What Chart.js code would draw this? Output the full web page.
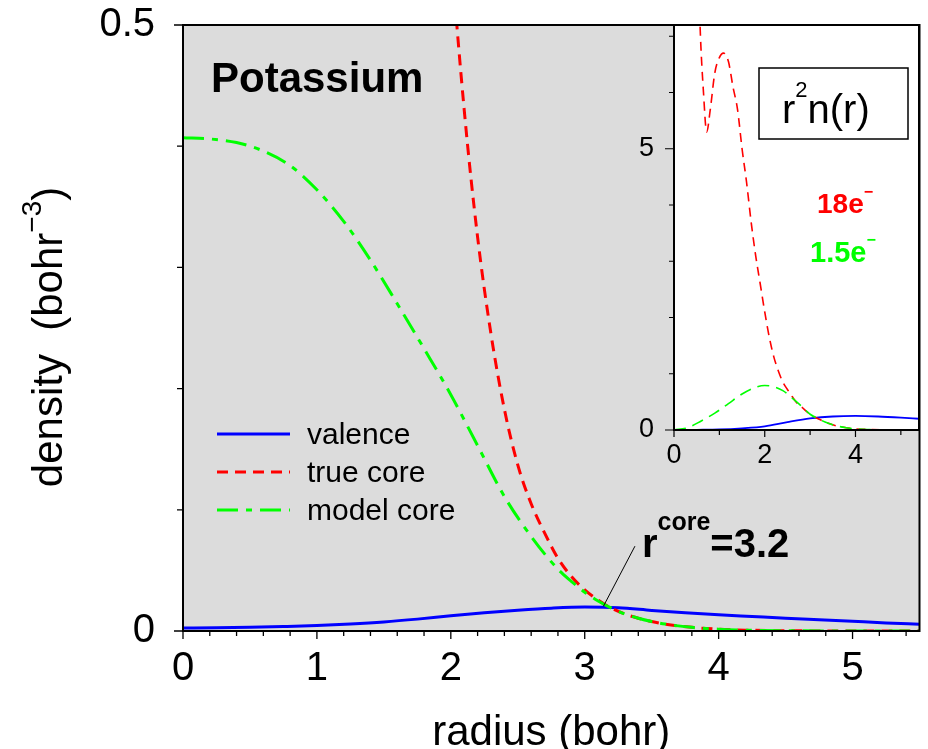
<!DOCTYPE html>
<html>
<head>
<meta charset="utf-8">
<title>Potassium core density</title>
<script src="https://cdn.jsdelivr.net/npm/chart.js@4.4.1/dist/chart.umd.min.js"></script>
<style>
  html, body { margin: 0; padding: 0; background: #fff; }
  #wrap { position: relative; width: 928px; height: 749px; }
  #mainChart { position: absolute; left: 0; top: 0; }
  #insetChart { position: absolute; left: 600px; top: 0; }
</style>
</head>
<body>
<div id="wrap">
  <canvas id="mainChart" width="928" height="749"></canvas>
  <canvas id="insetChart" width="328" height="480"></canvas>
</div>
<script>
// ------------------------------------------------------------
// Main panel: density n(r) in bohr^-3
// ------------------------------------------------------------
const valenceR = [0, 0.25, 0.5, 0.75, 1.0, 1.25, 1.5, 1.75, 2.0, 2.25, 2.5, 2.75, 3.0, 3.25, 3.5, 3.75, 4.0, 4.25, 4.5, 4.75, 5.0, 5.25, 5.5];
const valenceN = [0.0025, 0.0027, 0.0031, 0.0037, 0.0045, 0.0058, 0.0075, 0.0098, 0.0125, 0.0150, 0.0171, 0.0188, 0.0197, 0.0192, 0.0170, 0.0150, 0.0134, 0.0120, 0.0106, 0.0093, 0.0080, 0.0067, 0.0056];

const trueCoreR = [1.8, 1.9, 2.0, 2.1, 2.2, 2.3, 2.4, 2.5, 2.6, 2.7, 2.8, 2.9, 3.0, 3.1, 3.2, 3.3, 3.4, 3.5, 3.6, 3.8, 4.0, 4.2, 4.5, 5.0, 5.5];
const trueCoreN = [0.98, 0.74, 0.565, 0.43, 0.325, 0.245, 0.183, 0.137, 0.105, 0.081, 0.060, 0.045, 0.034, 0.0255, 0.0188, 0.014, 0.0105, 0.0078, 0.0057, 0.003, 0.0015, 0.0007, 0.0002, 0.00003, 0];

const modelCoreR = [0, 0.2, 0.4, 0.6, 0.8, 1.0, 1.2, 1.4, 1.6, 1.8, 2.0, 2.2, 2.4, 2.6, 2.8, 2.9, 3.0, 3.1, 3.2, 3.3, 3.4, 3.5, 3.6, 3.8, 4.0, 4.2, 4.5, 5.0, 5.5];
const modelCoreN = [0.407, 0.406, 0.403, 0.396, 0.384, 0.364, 0.338, 0.306, 0.270, 0.233, 0.195, 0.153, 0.111, 0.078, 0.051, 0.041, 0.032, 0.0248, 0.0188, 0.014, 0.0105, 0.0078, 0.0057, 0.003, 0.0015, 0.0007, 0.0002, 0.00003, 0];

const mainXLabels = [0, 1, 2, 3, 4, 5];
const mainYLabels = [0, 0.5];

// ------------------------------------------------------------
// Inset: r^2 n(r)
// ------------------------------------------------------------
const insetValenceR = [0, 0.5, 1.0, 1.5, 2.0, 2.5, 3.0, 3.5, 4.0, 4.5, 5.0, 5.4];
const insetValenceV = [0, 0.004, 0.01, 0.03, 0.065, 0.14, 0.205, 0.24, 0.25, 0.24, 0.22, 0.2];

const insetTrueCoreR = [0, 0.01, 0.3, 0.5, 0.574, 0.65, 0.72, 0.8, 0.9, 1.0, 1.09, 1.2, 1.3, 1.4, 1.5, 1.6, 1.7, 1.8, 1.9, 2.0, 2.1, 2.2, 2.3, 2.4, 2.5, 2.6, 2.7, 2.8, 2.9, 3.0, 3.2, 3.4, 3.6, 3.8, 4.0, 4.3, 4.6, 5.0, 5.4];
const insetTrueCoreV = [0, 40, 40, 9.5, 7.2, 6.0, 5.3, 5.7, 6.35, 6.62, 6.7, 6.55, 6.1, 5.7, 5.0, 4.4, 3.7, 3.1, 2.6, 2.1, 1.65, 1.3, 1.05, 0.85, 0.72, 0.6, 0.49, 0.42, 0.345, 0.28, 0.19, 0.12, 0.07, 0.04, 0.02, 0.008, 0.003, 0.001, 0];

const insetModelCoreR = [0, 0.3, 0.6, 0.9, 1.2, 1.5, 1.8, 2.0, 2.2, 2.4, 2.6, 2.8, 3.0, 3.2, 3.4, 3.6, 3.8, 4.0, 4.3, 4.6, 5.0, 5.4];
const insetModelCoreV = [0, 0.04, 0.16, 0.3, 0.47, 0.64, 0.76, 0.79, 0.77, 0.7, 0.57, 0.43, 0.28, 0.19, 0.12, 0.07, 0.04, 0.02, 0.008, 0.003, 0.001, 0];

const insetXLabels = [0, 2, 4];
const insetYLabels = [0, 5];

// core radius marker (leader line runs from the crossing point up to the label)
const rCore = 3.2;
const leaderFrom = [3.14, 0.0205];
const leaderTo = [3.375, 0.070];

const FONT = "'Liberation Sans', Arial, Helvetica, sans-serif";
const GRAY = '#dcdcdc';
const BLUE = '#0000ff';
const RED = '#ff0000';
const GREEN = '#00ff00';

// ------------------------------------------------------------
// helpers
// ------------------------------------------------------------
function toPoints(rs, vs) {
  return rs.map((r, i) => ({ x: r, y: vs[i] }));
}

function tickRange(min, max, step) {
  const out = [];
  for (let k = 0; min + k * step <= max + 1e-9; k++) {
    out.push(Math.round((min + k * step) * 1000) / 1000);
  }
  return out;
}

function isLabeled(v, labels) {
  return labels.some(l => Math.abs(l - v) < 1e-6);
}

function drawTickMarks(ctx, scale, labels, majorLen, minorLen) {
  ctx.beginPath();
  scale.ticks.forEach(t => {
    const p = scale.getPixelForValue(t.value);
    const len = isLabeled(t.value, labels) ? majorLen : minorLen;
    if (scale.isHorizontal()) {
      ctx.moveTo(p, scale.top);
      ctx.lineTo(p, scale.top + len);
    } else {
      ctx.moveTo(scale.right, p);
      ctx.lineTo(scale.right - len, p);
    }
  });
  ctx.stroke();
}

// draws a row of text pieces (used for superscripts)
function drawRuns(ctx, x, y, runs) {
  runs.forEach(r => {
    ctx.font = r.font;
    if (r.color) ctx.fillStyle = r.color;
    ctx.fillText(r.text, x, y + (r.dy || 0));
    x += ctx.measureText(r.text).width;
  });
  return x;
}

function runsWidth(ctx, runs) {
  let w = 0;
  runs.forEach(r => { ctx.font = r.font; w += ctx.measureText(r.text).width; });
  return w;
}

// y axes: fixed width, and no extra room reserved for the end labels
function fixYAxis(width) {
  return axis => {
    axis.width = width;
    axis.paddingTop = 0;
    axis.paddingBottom = 0;
  };
}

function fixXAxis(height) {
  return axis => {
    axis.height = height;
    axis.paddingLeft = 0;
    axis.paddingRight = 0;
  };
}

// ------------------------------------------------------------
// main panel decorations
// ------------------------------------------------------------
const mainDecor = {
  id: 'mainDecor',
  beforeDatasetsDraw(chart) {
    const { ctx, chartArea: a } = chart;
    ctx.save();
    ctx.fillStyle = GRAY;
    ctx.fillRect(a.left, a.top, a.right - a.left, a.bottom - a.top);
    ctx.restore();
  },
  afterDatasetsDraw(chart) {
    const { ctx, chartArea: a } = chart;
    const xs = chart.scales.x, ys = chart.scales.y;
    ctx.save();

    // frame + ticks
    ctx.strokeStyle = '#000';
    ctx.lineWidth = 2;
    ctx.strokeRect(a.left, a.top, a.right - a.left, a.bottom - a.top);
    ctx.lineWidth = 1.3;
    drawTickMarks(ctx, xs, mainXLabels, 8, 5);
    drawTickMarks(ctx, ys, mainYLabels, 9, 6);

    ctx.fillStyle = '#000';
    ctx.textAlign = 'left';
    ctx.textBaseline = 'alphabetic';

    // element name
    ctx.font = 'bold 42px ' + FONT;
    ctx.fillText('Potassium', 211, 92);

    // legend
    const rowY = [434, 472, 510];
    chart.data.datasets.forEach((ds, i) => {
      ctx.strokeStyle = ds.borderColor;
      ctx.lineWidth = ds.borderWidth;
      ctx.setLineDash(ds.borderDash || []);
      ctx.beginPath();
      ctx.moveTo(217, rowY[i]);
      ctx.lineTo(290, rowY[i]);
      ctx.stroke();
      ctx.setLineDash([]);
      ctx.font = '30px ' + FONT;
      ctx.fillStyle = '#000';
      ctx.fillText(ds.label, 307, rowY[i] + 10);
    });

    // r_core marker
    ctx.strokeStyle = '#000';
    ctx.lineWidth = 1;
    ctx.beginPath();
    ctx.moveTo(xs.getPixelForValue(leaderFrom[0]), ys.getPixelForValue(leaderFrom[1]));
    ctx.lineTo(xs.getPixelForValue(leaderTo[0]), ys.getPixelForValue(leaderTo[1]));
    ctx.stroke();
    drawRuns(ctx, 642, 557, [
      { text: 'r', font: 'bold 40px ' + FONT },
      { text: 'core', font: 'bold 25px ' + FONT, dy: -27 },
      { text: '=' + rCore.toFixed(1), font: 'bold 40px ' + FONT }
    ]);

    // axis titles
    ctx.font = '42px ' + FONT;
    ctx.textAlign = 'center';
    ctx.fillText('radius (bohr)', (a.left + a.right) / 2, 745);

    ctx.textAlign = 'left';
    const yRuns = [
      { text: 'density  (bohr', font: '42px ' + FONT },
      { text: '\u22123', font: '28px ' + FONT, dy: -21 },
      { text: ')', font: '42px ' + FONT }
    ];
    const w = runsWidth(ctx, yRuns);
    ctx.translate(62, 337);
    ctx.rotate(-Math.PI / 2);
    drawRuns(ctx, -w / 2, 0, yRuns);

    ctx.restore();
  }
};

new Chart(document.getElementById('mainChart'), {
  type: 'line',
  data: {
    datasets: [
      {
        label: 'valence',
        data: toPoints(valenceR, valenceN),
        borderColor: BLUE,
        borderWidth: 3,
        order: 3
      },
      {
        label: 'true core',
        data: toPoints(trueCoreR, trueCoreN),
        borderColor: RED,
        borderWidth: 3,
        borderDash: [11, 7],
        order: 2
      },
      {
        label: 'model core',
        data: toPoints(modelCoreR, modelCoreN),
        borderColor: GREEN,
        borderWidth: 3,
        borderDash: [21, 8, 6, 8],
        order: 1
      }
    ]
  },
  options: {
    responsive: false,
    animation: false,
    layout: { padding: { top: 25, right: 8.5, left: 0, bottom: 0 } },
    elements: {
      point: { radius: 0 },
      line: { cubicInterpolationMode: 'monotone', fill: false }
    },
    plugins: { legend: { display: false }, tooltip: { enabled: false } },
    scales: {
      x: {
        type: 'linear',
        min: 0,
        max: 5.5,
        afterBuildTicks: axis => { axis.ticks = tickRange(0, 5.4, 0.2).map(v => ({ value: v })); },
        afterFit: fixXAxis(118),
        grid: { display: false, drawTicks: false },
        border: { display: false },
        ticks: {
          autoSkip: false,
          maxRotation: 0,
          padding: 14,
          color: '#000',
          font: { family: FONT, size: 40 },
          callback: v => isLabeled(v, mainXLabels) ? String(Math.round(v)) : ''
        }
      },
      y: {
        type: 'linear',
        min: 0,
        max: 0.5,
        afterBuildTicks: axis => { axis.ticks = tickRange(0, 0.5, 0.1).map(v => ({ value: v })); },
        afterFit: fixYAxis(183),
        grid: { display: false, drawTicks: false },
        border: { display: false },
        ticks: {
          autoSkip: false,
          padding: 28,
          color: '#000',
          font: { family: FONT, size: 40 },
          callback: v => isLabeled(v, mainYLabels) ? String(v) : ''
        }
      }
    }
  },
  plugins: [mainDecor]
});

// ------------------------------------------------------------
// inset decorations
// ------------------------------------------------------------
const insetDecor = {
  id: 'insetDecor',
  beforeDatasetsDraw(chart) {
    const { ctx, chartArea: a } = chart;
    ctx.save();
    ctx.fillStyle = '#fff';
    ctx.fillRect(a.left, a.top, a.right - a.left, a.bottom - a.top);
    ctx.restore();
  },
  afterDatasetsDraw(chart) {
    const { ctx, chartArea: a } = chart;
    ctx.save();
    ctx.strokeStyle = '#000';
    ctx.lineWidth = 2;
    ctx.strokeRect(a.left, a.top, a.right - a.left, a.bottom - a.top);
    ctx.lineWidth = 1.2;
    drawTickMarks(ctx, chart.scales.x, insetXLabels, 7, 5);
    drawTickMarks(ctx, chart.scales.y, insetYLabels, 9, 5);

    // quantity box
    ctx.lineWidth = 1.5;
    ctx.strokeRect(159, 68, 149, 71);
    ctx.fillStyle = '#000';
    ctx.textAlign = 'left';
    ctx.textBaseline = 'alphabetic';
    drawRuns(ctx, 182, 123, [
      { text: 'r', font: '40px ' + FONT },
      { text: '2', font: '22px ' + FONT, dy: -26 },
      { text: 'n(r)', font: '40px ' + FONT }
    ]);

    // electron counts
    drawRuns(ctx, 217, 213, [
      { text: '18e', font: 'bold 28px ' + FONT, color: RED },
      { text: '\u2212', font: 'bold 16px ' + FONT, dy: -16 }
    ]);
    drawRuns(ctx, 210, 262, [
      { text: '1.5e', font: 'bold 29px ' + FONT, color: GREEN },
      { text: '\u2212', font: 'bold 16px ' + FONT, dy: -17 }
    ]);
    ctx.restore();
  }
};

new Chart(document.getElementById('insetChart'), {
  type: 'line',
  data: {
    datasets: [
      {
        label: 'valence',
        data: toPoints(insetValenceR, insetValenceV),
        borderColor: BLUE,
        borderWidth: 1.8,
        order: 3
      },
      {
        label: 'true core',
        data: toPoints(insetTrueCoreR, insetTrueCoreV),
        borderColor: RED,
        borderWidth: 1.6,
        borderDash: [9, 6],
        order: 2
      },
      {
        label: 'model core',
        data: toPoints(insetModelCoreR, insetModelCoreV),
        borderColor: GREEN,
        borderWidth: 1.6,
        borderDash: [12, 7],
        order: 1
      }
    ]
  },
  options: {
    responsive: false,
    animation: false,
    layout: { padding: { top: 25, right: 9, left: 0, bottom: 0 } },
    elements: {
      point: { radius: 0 },
      line: { cubicInterpolationMode: 'monotone', fill: false }
    },
    plugins: { legend: { display: false }, tooltip: { enabled: false } },
    scales: {
      x: {
        type: 'linear',
        min: 0,
        max: 5.4,
        afterBuildTicks: axis => { axis.ticks = tickRange(0, 5, 1).map(v => ({ value: v })); },
        afterFit: fixXAxis(50),
        grid: { display: false, drawTicks: false },
        border: { display: false },
        ticks: {
          autoSkip: false,
          maxRotation: 0,
          padding: 9,
          color: '#000',
          font: { family: FONT, size: 27 },
          callback: v => isLabeled(v, insetXLabels) ? String(v) : ''
        }
      },
      y: {
        type: 'linear',
        min: 0,
        max: 7.2,
        afterBuildTicks: axis => { axis.ticks = tickRange(0, 7, 1).map(v => ({ value: v })); },
        afterFit: fixYAxis(74),
        grid: { display: false, drawTicks: false },
        border: { display: false },
        ticks: {
          autoSkip: false,
          padding: 20,
          color: '#000',
          font: { family: FONT, size: 27 },
          callback: v => isLabeled(v, insetYLabels) ? String(v) : ''
        }
      }
    }
  },
  plugins: [insetDecor]
});
</script>
</body>
</html>
